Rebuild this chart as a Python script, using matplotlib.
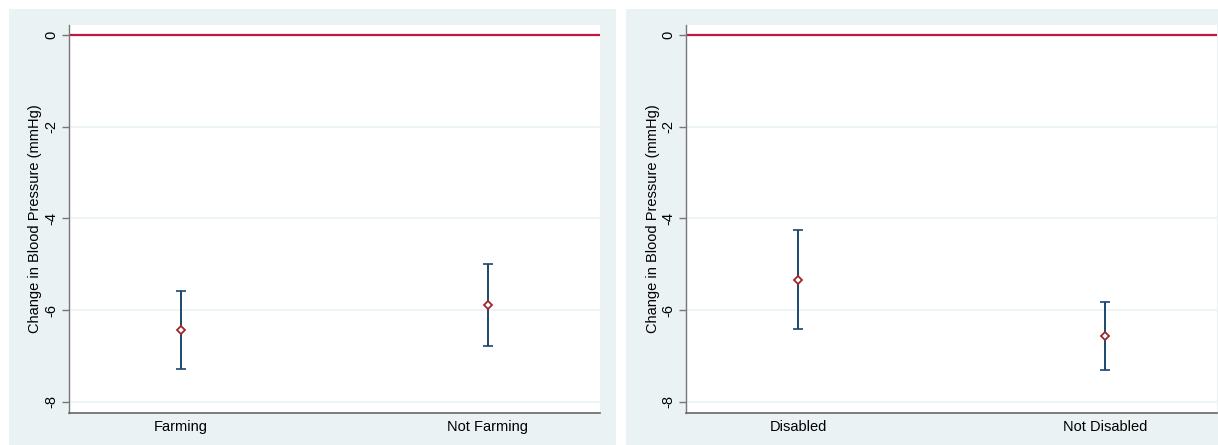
import matplotlib
matplotlib.use("Agg")
import matplotlib.pyplot as plt
from matplotlib.patches import Rectangle

plt.rcParams['font.family'] = ['Liberation Sans', 'DejaVu Sans']

# Panel 1
cats1 = ["Farming", "Not Farming"]
mean1 = [-6.43, -5.89]
lo1 = [-7.28, -6.78]
hi1 = [-5.59, -5.00]

# Panel 2
cats2 = ["Disabled", "Not Disabled"]
mean2 = [-5.33, -6.57]
lo2 = [-6.41, -7.30]
hi2 = [-4.24, -5.83]

yticks = [0, -2, -4, -6, -8]
ylabel = "Change in Blood Pressure (mmHg)"

W, H = 1218, 445
fig = plt.figure(figsize=(W / 100, H / 100), dpi=100)
bg = '#eaf2f3'
fig.patches.append(Rectangle((9 / W, 0), (616 - 9) / W, (H - 9) / H,
                             transform=fig.transFigure, facecolor=bg, edgecolor='none', zorder=-10))
fig.patches.append(Rectangle((626 / W, 0), (W - 626) / W, (H - 9) / H,
                             transform=fig.transFigure, facecolor=bg, edgecolor='none', zorder=-10))

navy = '#1a476f'
maroon = '#a0262c'
redline = '#c0163f'


def panel(left_px, cats, mean, lo, hi):
    ax = fig.add_axes([left_px / W, (H - 413) / H, 531 / W, (413 - 25) / H])
    ax.set_facecolor('white')
    x = list(range(len(cats)))
    yerr = [[m - l for m, l in zip(mean, lo)], [h - m for m, h in zip(mean, hi)]]
    ax.errorbar(x, mean, yerr=yerr, fmt='none', ecolor=navy, elinewidth=1.4,
                capsize=3.5, capthick=1.2, zorder=3)
    ax.plot(x, mean, linestyle='none', marker='D', markersize=4.5,
            markerfacecolor='white', markeredgecolor=maroon, markeredgewidth=1.3, zorder=4)
    ax.axhline(0, color=redline, lw=1.6, zorder=2)
    ax.set_xlim(-0.365, 1.365)
    ax.set_ylim(-8.24, 0.218)
    ax.set_yticks(yticks)
    ax.set_yticklabels([str(t) for t in yticks], rotation=90, va='center')
    ax.yaxis.grid(True, color='#eaf2f3', lw=1.2, zorder=0)
    ax.set_axisbelow(True)
    ax.set_xticks(x)
    ax.set_xticklabels(cats)
    ax.tick_params(axis='x', length=0, pad=5, labelsize=10.5, colors='black')
    ax.tick_params(axis='y', length=5, width=1, color='#777777', pad=3, labelsize=10.5, labelcolor='black')
    for s in ['top', 'right']:
        ax.spines[s].set_visible(False)
    ax.spines['left'].set_color('#777777')
    ax.spines['bottom'].set_color('#666666')
    ax.spines['left'].set_linewidth(1.0)
    ax.spines['bottom'].set_linewidth(1.2)
    ax.set_ylabel(ylabel, fontsize=10.5, labelpad=1)
    return ax


panel(69, cats1, mean1, lo1, hi1)
panel(686, cats2, mean2, lo2, hi2)

fig.savefig("out.png", dpi=100)
